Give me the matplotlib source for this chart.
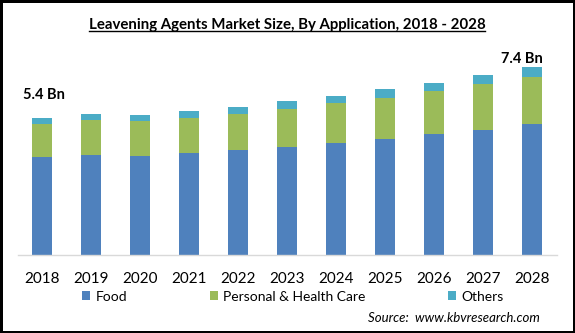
import matplotlib
matplotlib.use("Agg")
import matplotlib.pyplot as plt
from matplotlib.patches import Patch
from matplotlib.lines import Line2D
import numpy as np

plt.rcParams['font.family'] = ['Lato', 'DejaVu Sans']

# values (USD Bn)
years = ["2018", "2019", "2020", "2021", "2022", "2023", "2024", "2025", "2026", "2027", "2028"]
food = [3.86, 3.94, 3.90, 4.02, 4.14, 4.26, 4.41, 4.57, 4.77, 4.93, 5.16]
personal = [1.31, 1.38, 1.38, 1.38, 1.42, 1.50, 1.58, 1.62, 1.69, 1.81, 1.85]
others = [0.23, 0.24, 0.24, 0.28, 0.28, 0.32, 0.28, 0.35, 0.32, 0.35, 0.39]
series_names = ["Food", "Personal & Health Care", "Others"]
colors = ["#4F81BD", "#9BBB59", "#4BACC6"]
first_label = "5.4 Bn"
last_label = "7.4 Bn"

W, H = 575, 333
fig = plt.figure(figsize=(W / 100, H / 100), dpi=100)
fig.patch.set_edgecolor("black")
fig.patch.set_linewidth(2.5)

ax = fig.add_axes([17.5 / W, (H - 255) / H, 539 / W, 195 / H])
x = np.arange(len(years))
bw = 0.39
food_arr = np.array(food)
pers_arr = np.array(personal)
oth_arr = np.array(others)
ax.bar(x, food_arr, bw, color=colors[0])
ax.bar(x, pers_arr, bw, bottom=food_arr, color=colors[1])
ax.bar(x, oth_arr, bw, bottom=food_arr + pers_arr, color=colors[2])

ax.set_xlim(-0.5, len(years) - 0.5)
ax.set_ylim(0, 7.68)
for s in ["top", "right", "left"]:
    ax.spines[s].set_visible(False)
ax.spines["bottom"].set_color("#D9D9D9")
ax.spines["bottom"].set_linewidth(1.0)
ax.set_yticks([])
ax.set_xticks(x)
ax.set_xticklabels(years, fontsize=11)
ax.tick_params(axis="x", length=0, pad=12)

ax.text(-0.39, 6.30, first_label, fontsize=10.5, fontweight="bold", ha="left", va="center")
ax.text(9.79, 7.72, last_label, fontsize=10.5, fontweight="bold", ha="center", va="center")

# title with underline
title = fig.text(287 / W, 1 - 25 / H, "Leavening Agents Market Size, By Application, 2018 - 2028",
                 fontsize=10.8, fontweight="bold", ha="center", va="center")
fig.canvas.draw()
bb = title.get_window_extent().transformed(fig.transFigure.inverted())
fig.add_artist(Line2D([bb.x0, bb.x1], [bb.y0 + 0.004, bb.y0 + 0.004], color="black", lw=1.0,
                      transform=fig.transFigure))

handles = [Patch(facecolor=c) for c in colors]
fig.legend(handles, series_names, loc="center", bbox_to_anchor=(293 / W, 1 - 296.7 / H), ncol=3,
           frameon=False, fontsize=10, handlelength=0.6, handleheight=0.6, handletextpad=0.4,
           columnspacing=5.9)

fig.text(540 / W, 1 - 317.6 / H, "Source:  www.kbvresearch.com", fontsize=9.5, style="italic",
         ha="right", va="center")

fig.savefig("out.png", dpi=100, edgecolor=fig.get_edgecolor())
